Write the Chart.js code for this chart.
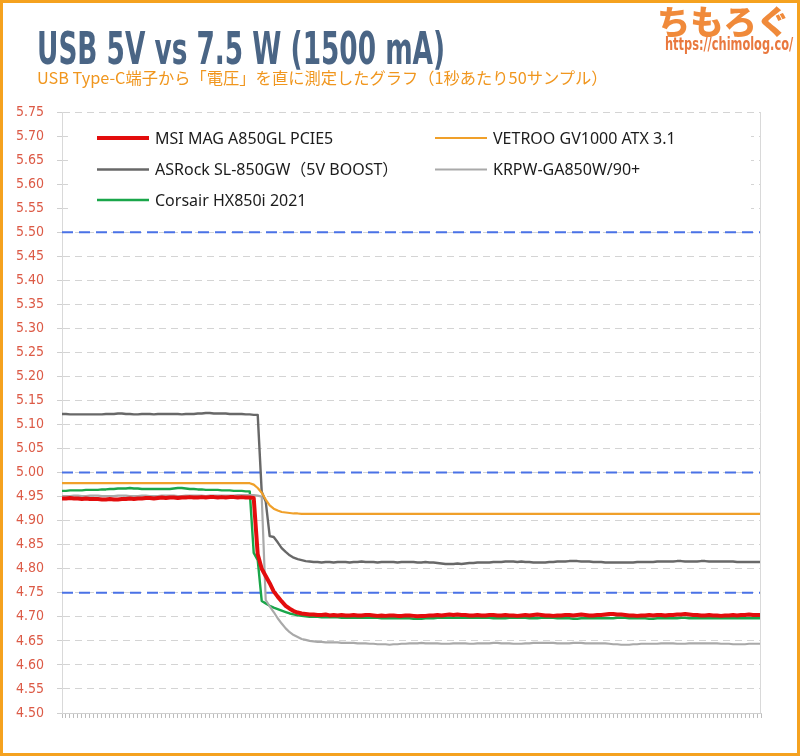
<!DOCTYPE html>
<html><head><meta charset="utf-8">
<script src="https://cdn.jsdelivr.net/npm/chart.js@4/dist/chart.umd.min.js"></script>
<style>
html,body{margin:0;padding:0;background:#fff;}
#wrap{position:relative;width:800px;height:756px;overflow:hidden;background:#fff;}
#c{position:absolute;left:0;top:0;}
.t{position:absolute;white-space:nowrap;transform-origin:0 0;}
#title{left:37px;top:27px;font:bold 44px/44px "Liberation Sans Narrow","DejaVu Sans Condensed",sans-serif;color:#4a6585;}
#sub{left:37px;top:67px;font:16px/20px "Noto Sans CJK JP",sans-serif;color:#f0961e;}
#logo{left:657px;top:3px;font:900 33px/33px "Noto Sans CJK JP",sans-serif;color:#f08a3a;}
#url{left:665px;top:36px;font:bold 17px/17px "Liberation Sans Narrow","DejaVu Sans Condensed",sans-serif;color:#e9783e;}
#frame{position:absolute;left:0;top:0;width:800px;height:756px;box-sizing:border-box;border:3px solid #f5a21f;pointer-events:none;}
</style></head>
<body>
<div id="wrap">
<canvas id="c" width="800" height="756"></canvas>
<div class="t" id="title">USB 5V vs 7.5 W (1500 mA)</div>
<div class="t" id="sub">USB Type-C端子から「電圧」を直に測定したグラフ（1秒あたり50サンプル）</div>
<div class="t" id="logo">ちもろぐ</div>
<div class="t" id="url">https://chimolog.co/</div>
<div id="frame"></div>
</div>
<script>
// ---- data (volts, one value per sample) ----
const seriesNames = ['MSI MAG A850GL PCIE5', 'VETROO GV1000 ATX 3.1', 'ASRock SL-850GW（5V BOOST）', 'KRPW-GA850W/90+', 'Corsair HX850i 2021'];

const msi = [
/*0*/  4.946,4.946,4.947,4.946,4.946,4.945,4.946,4.945,4.945,4.945,
/*10*/ 4.944,4.944,4.945,4.944,4.944,4.945,4.945,4.946,4.945,4.946,
/*20*/ 4.946,4.947,4.947,4.946,4.947,4.948,4.947,4.948,4.948,4.947,
/*30*/ 4.948,4.948,4.949,4.948,4.948,4.949,4.948,4.949,4.949,4.948,
/*40*/ 4.949,4.948,4.949,4.949,4.948,4.949,4.948,4.948,4.947,
/*49*/ 4.830,4.800,4.785,4.770,4.753,4.742,4.732,4.723,4.717,4.712,4.709,4.707,4.706,4.705,
/*63*/ 4.705,4.704,4.704,4.705,4.703,4.704,4.703,4.704,4.703,4.703,
/*73*/ 4.704,4.703,4.703,4.704,4.704,4.703,4.702,4.703,4.702,4.703,
/*83*/ 4.703,4.702,4.702,4.703,4.703,4.702,4.701,4.702,4.702,4.703,
/*93*/ 4.703,4.704,4.703,4.704,4.705,4.704,4.705,4.704,4.704,4.703,
/*103*/4.703,4.704,4.703,4.703,4.704,4.704,4.703,4.703,4.704,4.703,
/*113*/4.703,4.702,4.703,4.704,4.703,4.704,4.705,4.704,4.703,4.703,
/*123*/4.702,4.703,4.703,4.704,4.704,4.703,4.704,4.705,4.704,4.703,
/*133*/4.703,4.704,4.704,4.705,4.706,4.706,4.705,4.705,4.704,4.703,
/*143*/4.703,4.702,4.703,4.703,4.704,4.703,4.704,4.704,4.703,4.704,
/*153*/4.704,4.705,4.705,4.706,4.705,4.704,4.704,4.703,4.703,4.704,
/*163*/4.703,4.703,4.702,4.703,4.703,4.704,4.703,4.704,4.704,4.705,
/*173*/4.704,4.704,4.704
];

const vetroo = [
/*0*/  4.978,4.978,4.978,4.978,4.978,4.978,4.978,4.978,4.978,4.978,
/*10*/ 4.978,4.978,4.978,4.978,4.978,4.978,4.978,4.978,4.978,4.978,
/*20*/ 4.978,4.978,4.978,4.978,4.978,4.978,4.978,4.978,4.978,4.978,
/*30*/ 4.978,4.978,4.978,4.978,4.978,4.978,4.978,4.978,4.978,4.978,
/*40*/ 4.978,4.978,4.978,4.978,4.978,4.978,4.978,4.978,
/*48*/ 4.975,4.968,4.958,4.944,4.932,4.925,4.921,4.918,4.917,4.916,4.915,4.915,
/*60*/ 4.914,4.914,4.914,4.914,4.914,4.914,4.914,4.914,4.914,4.914,
/*70*/ 4.914,4.914,4.914,4.914,4.914,4.914,4.914,4.914,4.914,4.914,
/*80*/ 4.914,4.914,4.914,4.914,4.914,4.914,4.914,4.914,4.914,4.914,
/*90*/ 4.914,4.914,4.914,4.914,4.914,4.914,4.914,4.914,4.914,4.914,
/*100*/4.914,4.914,4.914,4.914,4.914,4.914,4.914,4.914,4.914,4.914,
/*110*/4.914,4.914,4.914,4.914,4.914,4.914,4.914,4.914,4.914,4.914,
/*120*/4.914,4.914,4.914,4.914,4.914,4.914,4.914,4.914,4.914,4.914,
/*130*/4.914,4.914,4.914,4.914,4.914,4.914,4.914,4.914,4.914,4.914,
/*140*/4.914,4.914,4.914,4.914,4.914,4.914,4.914,4.914,4.914,4.914,
/*150*/4.914,4.914,4.914,4.914,4.914,4.914,4.914,4.914,4.914,4.914,
/*160*/4.914,4.914,4.914,4.914,4.914,4.914,4.914,4.914,4.914,4.914,
/*170*/4.914,4.914,4.914,4.914,4.914,4.914
];

const asrock = [
/*0*/  5.122,5.122,5.121,5.121,5.121,5.121,5.121,5.121,5.121,5.121,
/*10*/ 5.121,5.122,5.122,5.122,5.123,5.123,5.122,5.122,5.121,5.121,
/*20*/ 5.122,5.122,5.122,5.121,5.122,5.122,5.122,5.122,5.122,5.122,
/*30*/ 5.121,5.122,5.122,5.122,5.123,5.123,5.124,5.124,5.123,5.123,
/*40*/ 5.123,5.123,5.122,5.122,5.122,5.122,5.121,5.121,5.120,5.120,
/*50*/ 4.960,4.940,4.868,4.866,4.855,4.843,4.835,4.828,4.823,4.820,4.818,4.816,4.815,
/*63*/ 4.814,4.814,4.813,4.814,4.814,4.813,4.814,4.814,4.814,4.813,
/*73*/ 4.814,4.814,4.815,4.814,4.814,4.814,4.813,4.814,4.814,4.814,
/*83*/ 4.814,4.813,4.814,4.814,4.814,4.814,4.813,4.813,4.814,4.813,
/*93*/ 4.813,4.812,4.811,4.810,4.810,4.810,4.811,4.810,4.811,4.812,
/*103*/4.812,4.813,4.813,4.813,4.813,4.814,4.814,4.814,4.815,4.815,
/*113*/4.815,4.814,4.815,4.814,4.814,4.813,4.813,4.813,4.813,4.814,
/*123*/4.814,4.815,4.815,4.815,4.816,4.816,4.816,4.815,4.815,4.815,
/*133*/4.814,4.814,4.814,4.813,4.813,4.813,4.813,4.813,4.813,4.813,
/*143*/4.813,4.814,4.814,4.814,4.814,4.814,4.815,4.815,4.815,4.815,
/*153*/4.815,4.816,4.816,4.815,4.815,4.815,4.815,4.816,4.816,4.815,
/*163*/4.815,4.815,4.815,4.815,4.815,4.815,4.814,4.814,4.814,4.814,
/*173*/4.814,4.814,4.814
];

const krpw = [
/*0*/  4.951,4.951,4.951,4.952,4.952,4.951,4.951,4.952,4.952,4.952,
/*10*/ 4.951,4.951,4.951,4.951,4.952,4.952,4.952,4.951,4.951,4.951,
/*20*/ 4.952,4.952,4.951,4.951,4.951,4.952,4.952,4.952,4.952,4.951,
/*30*/ 4.951,4.952,4.952,4.952,4.952,4.952,4.951,4.952,4.952,4.952,
/*40*/ 4.952,4.952,4.952,4.952,4.953,4.953,4.953,4.953,4.953,4.952,4.950,
/*51*/ 4.735,4.722,4.710,4.697,4.686,4.676,4.668,4.662,4.658,4.654,4.652,4.650,
/*63*/ 4.649,4.648,4.648,4.647,4.647,4.647,4.647,4.646,4.646,4.646,
/*73*/ 4.646,4.645,4.645,4.645,4.644,4.644,4.643,4.643,4.643,4.642,
/*83*/ 4.643,4.643,4.644,4.644,4.645,4.645,4.645,4.646,4.645,4.645,
/*93*/ 4.645,4.645,4.644,4.644,4.644,4.645,4.645,4.645,4.645,4.644,
/*103*/4.644,4.645,4.645,4.645,4.645,4.646,4.646,4.645,4.645,4.645,
/*113*/4.644,4.644,4.644,4.645,4.645,4.646,4.646,4.646,4.646,4.646,
/*123*/4.646,4.645,4.645,4.645,4.645,4.646,4.646,4.646,4.645,4.645,
/*133*/4.645,4.645,4.645,4.645,4.644,4.643,4.643,4.642,4.642,4.642,
/*143*/4.643,4.643,4.644,4.644,4.644,4.644,4.644,4.645,4.645,4.645,
/*153*/4.645,4.644,4.644,4.644,4.645,4.645,4.645,4.645,4.645,4.645,
/*163*/4.645,4.645,4.644,4.644,4.644,4.643,4.643,4.643,4.643,4.644,
/*173*/4.644,4.644,4.644
];

const corsair = [
/*0*/  4.962,4.962,4.963,4.963,4.963,4.963,4.964,4.964,4.964,4.964,
/*10*/ 4.965,4.965,4.966,4.966,4.967,4.967,4.967,4.968,4.967,4.967,
/*20*/ 4.966,4.966,4.966,4.966,4.966,4.966,4.966,4.966,4.967,4.968,
/*30*/ 4.968,4.967,4.966,4.966,4.965,4.965,4.964,4.964,4.964,4.964,
/*40*/ 4.963,4.963,4.963,4.962,4.962,4.962,4.961,4.961,
/*48*/ 4.833,4.818,4.733,4.728,4.723,4.719,4.716,4.713,4.710,4.707,4.705,4.703,4.702,4.701,4.700,
/*63*/ 4.700,4.700,4.699,4.699,4.699,4.699,4.699,4.698,4.698,4.698,
/*73*/ 4.698,4.698,4.698,4.698,4.698,4.698,4.698,4.697,4.697,4.697,
/*83*/ 4.697,4.697,4.697,4.697,4.697,4.696,4.696,4.696,4.697,4.697,
/*93*/ 4.697,4.698,4.698,4.698,4.698,4.698,4.698,4.698,4.698,4.698,
/*103*/4.698,4.698,4.698,4.698,4.698,4.697,4.697,4.697,4.697,4.698,
/*113*/4.698,4.698,4.698,4.698,4.697,4.697,4.697,4.698,4.698,4.698,
/*123*/4.698,4.697,4.697,4.697,4.697,4.696,4.696,4.697,4.697,4.697,
/*133*/4.697,4.697,4.697,4.697,4.697,4.697,4.698,4.698,4.698,4.697,
/*143*/4.697,4.697,4.697,4.697,4.696,4.696,4.697,4.697,4.697,4.697,
/*153*/4.697,4.697,4.698,4.698,4.697,4.697,4.697,4.697,4.697,4.697,
/*163*/4.697,4.697,4.697,4.697,4.697,4.697,4.697,4.697,4.697,4.697,
/*173*/4.697,4.697,4.697
];

// reference voltage lines (blue dashed)
const limits = [5.50, 5.00, 4.75];
// y axis range / tick step
const yMin = 4.50, yMax = 5.75, yStep = 0.05;

// categories: sample number
const nSamples = Math.max(msi.length, vetroo.length, asrock.length, krpw.length, corsair.length);
const samples = Array.from({length: nSamples}, (_, i) => String(i + 1));

// ---- styles ----
const seriesValues = [msi, vetroo, asrock, krpw, corsair];
const seriesColors = ['#e30d0d', '#f0a02a', '#686868', '#a9a9a9', '#1aa64a'];
const seriesWidths = [4, 2.2, 2.4, 2.2, 2.4];

const datasets = seriesValues.map((vals, i) => ({
  label: seriesNames[i], data: vals, borderColor: seriesColors[i], backgroundColor: seriesColors[i],
  borderWidth: seriesWidths[i], pointRadius: 0, fill: false
}));
limits.forEach(v => datasets.push({
  label: 'limit ' + v.toFixed(2), data: samples.map(() => v), borderColor: '#4a72e6',
  borderWidth: 2, borderDash: [11, 6], pointRadius: 0, fill: false, isLimit: true
}));

const boxLegend = {
  id: 'boxLegend',
  afterDraw(chart) {
    const ctx = chart.ctx, a = chart.chartArea;
    ctx.save();
    // right frame of plot
    ctx.strokeStyle = '#d9d9d9'; ctx.lineWidth = 1;
    ctx.beginPath(); ctx.moveTo(a.right - 0.5, a.top); ctx.lineTo(a.right - 0.5, a.bottom); ctx.stroke();
    // legend box
    ctx.fillStyle = '#ffffff';
    ctx.fillRect(68, 118, 683, 100);
    const pos = [[97, 138], [435, 138], [97, 169.5], [435, 169.5], [97, 200]];
    ctx.font = '16px "Noto Sans", "Noto Sans CJK JP", sans-serif';
    ctx.textBaseline = 'middle'; ctx.textAlign = 'left';
    chart.data.datasets.filter(d => !d.isLimit).forEach((ds, i) => {
      const [x, y] = pos[i];
      ctx.strokeStyle = ds.borderColor; ctx.lineWidth = ds.borderWidth; ctx.lineCap = 'butt';
      ctx.beginPath(); ctx.moveTo(x, y); ctx.lineTo(x + 52, y); ctx.stroke();
      ctx.fillStyle = '#1c1c1c';
      ctx.fillText(ds.label, x + 58, y + 1);
    });
    ctx.restore();
  }
};

new Chart(document.getElementById('c'), {
  type: 'line',
  data: { labels: samples, datasets },
  options: {
    responsive: false, animation: false, devicePixelRatio: 1,
    layout: { padding: { left: 12, right: 39, top: 112, bottom: 37 } },
    plugins: { legend: { display: false }, tooltip: { enabled: false }, title: { display: false } },
    elements: { line: { tension: 0, borderJoinStyle: 'round', borderCapStyle: 'butt' }, point: { radius: 0 } },
    scales: {
      x: {
        type: 'category', offset: false,
        ticks: { display: false },
        grid: { display: true, drawOnChartArea: false, drawTicks: true, tickLength: 5, tickColor: '#bdbdbd', tickWidth: 1, color: '#bdbdbd' },
        border: { display: true, color: '#cfcfcf' },
        afterFit: s => { s.height = 6; }
      },
      y: {
        min: yMin, max: yMax,
        ticks: {
          stepSize: yStep, color: '#dc5a46', padding: 13,
          font: { family: '"Liberation Sans Narrow", "DejaVu Sans Condensed", sans-serif', size: 14 },
          callback: v => Number(v).toFixed(2)
        },
        grid: { color: '#d4d4d4', tickColor: '#cfcfcf', tickLength: 5, lineWidth: 1 },
        border: { display: true, color: '#d9d9d9', dash: [7, 5] },
        afterFit: s => { s.width = 50; }
      }
    }
  },
  plugins: [boxLegend]
});

// fit header texts to their widths
function scaleTo(id, w) { const el = document.getElementById(id); el.style.transform = 'scaleX(' + (w / el.offsetWidth) + ')'; }
function sizeTo(id, w, base) { const el = document.getElementById(id); const s = base * w / el.offsetWidth; el.style.fontSize = s + 'px'; }
scaleTo('title', 408);
sizeTo('sub', 571, 16);
scaleTo('url', 128);
sizeTo('logo', 133, 33);
</script>
</body></html>
